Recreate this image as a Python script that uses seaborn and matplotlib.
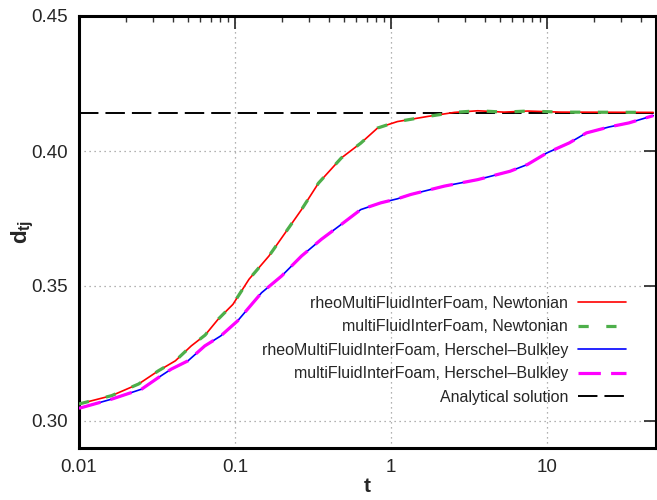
import numpy as np
import pandas as pd
import matplotlib
matplotlib.use("Agg")
import matplotlib.pyplot as plt
import seaborn as sns
from matplotlib.ticker import LogLocator, FixedLocator, NullFormatter, FuncFormatter

# Droplet thread diameter d_tj versus time t
t_newt = [0.01, 0.0162, 0.0241, 0.0323, 0.0415, 0.0524, 0.0643, 0.078, 0.097,
          0.123, 0.165, 0.21, 0.267, 0.343, 0.48, 0.64, 0.82, 1.1, 1.72, 2.55,
          3.6, 5.3, 7.5, 12.3, 48.0]
d_newt = [0.3063, 0.3094, 0.3137, 0.3186, 0.3223, 0.3278, 0.3318, 0.3377, 0.3432,
          0.3525, 0.3611, 0.3697, 0.3783, 0.3881, 0.3974, 0.4029, 0.4085, 0.4109,
          0.4128, 0.4143, 0.4149, 0.4144, 0.4148, 0.4144, 0.4143]

t_hb = [0.01, 0.0162, 0.0252, 0.0323, 0.039, 0.050, 0.064, 0.081, 0.104, 0.148,
        0.199, 0.267, 0.358, 0.48, 0.64, 0.86, 1.1, 1.34, 2.2, 3.6, 5.8, 7.5,
        10.0, 13.9, 17.9, 25.0, 33.5, 48.0]
d_hb = [0.3047, 0.3081, 0.3118, 0.3161, 0.3192, 0.3223, 0.3278, 0.3315, 0.3371,
        0.3475, 0.3537, 0.3611, 0.3673, 0.3728, 0.3783, 0.3808, 0.3823, 0.3839,
        0.3870, 0.3894, 0.3925, 0.3950, 0.3993, 0.4030, 0.4067, 0.4089, 0.4104,
        0.4131]

d_analytical = 0.414

labels = ["rheoMultiFluidInterFoam, Newtonian",
          "multiFluidInterFoam, Newtonian",
          "rheoMultiFluidInterFoam, Herschel\u2013Bulkley",
          "multiFluidInterFoam, Herschel\u2013Bulkley",
          "Analytical solution"]

sns.set_theme(style="white")
plt.rcParams["font.family"] = ["Liberation Sans", "DejaVu Sans"]
plt.rcParams["mathtext.fontset"] = "custom"
plt.rcParams["mathtext.bf"] = "Liberation Sans:bold"
plt.rcParams["mathtext.rm"] = "Liberation Sans"

fig = plt.figure(figsize=(6.57, 5.0), dpi=100)
ax = fig.add_axes([79 / 657, 52 / 500, 577 / 657, 432 / 500])

newt = pd.DataFrame({"t": t_newt, "d": d_newt})
hb = pd.DataFrame({"t": t_hb, "d": d_hb})

sns.lineplot(data=newt, x="t", y="d", ax=ax, color="#ff0000", lw=1.2,
             label=labels[0], zorder=3)
sns.lineplot(data=newt, x="t", y="d", ax=ax, color="#4daf4a", lw=2.3,
             label=labels[1], zorder=4)
sns.lineplot(data=hb, x="t", y="d", ax=ax, color="#0000ff", lw=1.2,
             label=labels[2], zorder=3)
sns.lineplot(data=hb, x="t", y="d", ax=ax, color="#ff00ff", lw=2.3,
             label=labels[3], zorder=4)
ax.axhline(d_analytical, color="black", lw=1.4, label=labels[4], zorder=2)

lines = ax.get_lines()
lines[1].set_dashes((3.2, 5.5))
lines[3].set_dashes((7.0, 3.2))
lines[4].set_dashes((10.0, 3.6))

ax.set_xscale("log")
ax.set_xlim(0.01, 50)
ax.set_ylim(0.29, 0.45)

ax.xaxis.set_major_locator(FixedLocator([0.01, 0.1, 1, 10]))
ax.xaxis.set_minor_locator(LogLocator(base=10, subs=np.arange(2, 10)))
ax.xaxis.set_minor_formatter(NullFormatter())
ax.xaxis.set_major_formatter(FuncFormatter(lambda v, p: f"{v:g}"))
ax.yaxis.set_major_locator(FixedLocator([0.30, 0.35, 0.40, 0.45]))
ax.yaxis.set_major_formatter(FuncFormatter(lambda v, p: f"{v:.2f}"))

ax.grid(True, which="major", color="#999999", linestyle=(0, (1, 3)), lw=0.9)
ax.tick_params(which="major", direction="in", length=9, width=1.3,
               top=True, right=True, labelsize=13.5, pad=8, color="#333333")
ax.tick_params(which="minor", direction="in", length=4.5, width=1.0,
               top=True, right=False, color="#333333")
ax.tick_params(axis="y", which="minor", left=False, right=False)

for s in ax.spines.values():
    s.set_linewidth(2.2)
    s.set_color("black")
    s.set_visible(True)

ax.set_xlabel("t", fontsize=15, fontweight="bold")
ax.set_ylabel(r"$\mathbf{d_{tj}}$", fontsize=16)
ax.xaxis.set_label_coords(0.5, -0.068)
ax.yaxis.set_label_coords(-0.075, 0.50)

leg = ax.legend(loc="lower right", bbox_to_anchor=(0.948, 0.10), frameon=False,
                markerfirst=False, fontsize=11.5, handlelength=3.0,
                handletextpad=0.63, labelspacing=0.53, borderaxespad=0,
                borderpad=0)

fig.savefig("out.png", dpi=100)
